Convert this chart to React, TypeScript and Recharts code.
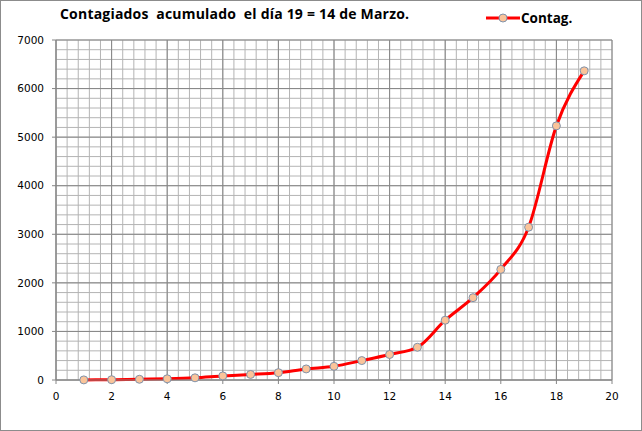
import type { FC } from "react";
import { LineChart, Line, XAxis, YAxis, CartesianGrid } from "recharts";

// Casos acumulados, día 1 .. día 19 (= 14 de marzo)
const days = [1, 2, 3, 4, 5, 6, 7, 8, 9, 10, 11, 12, 13, 14, 15, 16, 17, 18, 19];
const contag = [2, 6, 15, 25, 45, 84, 114, 151, 228, 282, 400, 525, 674, 1231, 1695, 2277, 3146, 5232, 6365];

const xTicks = [0, 2, 4, 6, 8, 10, 12, 14, 16, 18, 20];
const yTicks = [0, 1000, 2000, 3000, 4000, 5000, 6000, 7000];

// minor grid: 5 divisions per major step
const xMinor: number[] = [];
for (let i = 0; i <= 50; i++) xMinor.push(+(i * 0.4).toFixed(1));
const yMinor: number[] = [];
for (let i = 0; i <= 35; i++) yMinor.push(i * 200);

const data = days.map((d, i) => ({ day: d, contag: contag[i] }));

const axisColor = "#868686";
const tickStyle = { fill: "#000", fontSize: 10.5, fontFamily: "DejaVu Sans, Verdana, sans-serif" };

const minorX = (p: any) => {
  const s = p?.xAxis?.scale;
  if (s && typeof s === "function") return xMinor.map((v) => s(v));
  const o = p.offset;
  return xMinor.map((v) => o.left + (v / 20) * o.width);
};
const minorY = (p: any) => {
  const s = p?.yAxis?.scale;
  if (s && typeof s === "function") return yMinor.map((v) => s(v));
  const o = p.offset;
  return yMinor.map((v) => o.top + o.height - (v / 7000) * o.height);
};

const App: FC = () => {
  return (
    <div
      style={{
        position: "absolute",
        left: 0,
        top: 0,
        width: 642,
        height: 431,
        border: "1px solid #8c8c8c",
        boxSizing: "border-box",
        background: "#fff",
      }}
    >
      {/* Title */}
      <div
        style={{
          position: "absolute",
          left: 59,
          top: 3,
          fontFamily: "Open Sans, sans-serif",
          fontWeight: 700,
          fontSize: 14,
          letterSpacing: 0.2,
          whiteSpace: "pre",
          color: "#000",
        }}
      >
        {"Contagiados  acumulado  el día 19 = 14 de Marzo."}
      </div>

      {/* Legend */}
      <div style={{ position: "absolute", left: 484, top: 7, display: "flex", alignItems: "center" }}>
        <svg width={36} height={20}>
          <line x1={1} y1={10} x2={35} y2={10} stroke="#ff0000" strokeWidth={3} />
          <circle cx={18} cy={10} r={4} fill="#fac49a" stroke="#8093ab" strokeWidth={1} />
        </svg>
        <span style={{ fontFamily: "Open Sans, sans-serif", fontWeight: 700, fontSize: 13.5, color: "#000" }}>
          Contag.
        </span>
      </div>

      <LineChart width={640} height={429} data={data} margin={{ top: 39, right: 29, left: 0, bottom: 20 }}>
        <CartesianGrid
          stroke="#b4b4b4"
          strokeWidth={1}
          horizontalCoordinatesGenerator={minorY}
          verticalCoordinatesGenerator={minorX}
        />
        <CartesianGrid stroke={axisColor} strokeWidth={1} fill="none" />

        <XAxis
          type="number"
          dataKey="day"
          domain={[0, 20]}
          ticks={xTicks}
          interval={0}
          height={30}
          stroke={axisColor}
          tickSize={4}
          tickMargin={9}
          tick={tickStyle}
          tickLine={{ stroke: axisColor }}
        />
        <YAxis
          type="number"
          domain={[0, 7000]}
          ticks={yTicks}
          interval={0}
          width={55}
          stroke={axisColor}
          tickSize={4}
          tickMargin={8}
          tick={tickStyle}
          tickLine={{ stroke: axisColor }}
        />
        <Line
          type="monotone"
          dataKey="contag"
          stroke="#ff0000"
          strokeWidth={3}
          dot={{ r: 4, fill: "#fac49a", stroke: "#8093ab", strokeWidth: 1 }}
          activeDot={false}
          isAnimationActive={false}
        />
      </LineChart>
    </div>
  );
};

export default App;
